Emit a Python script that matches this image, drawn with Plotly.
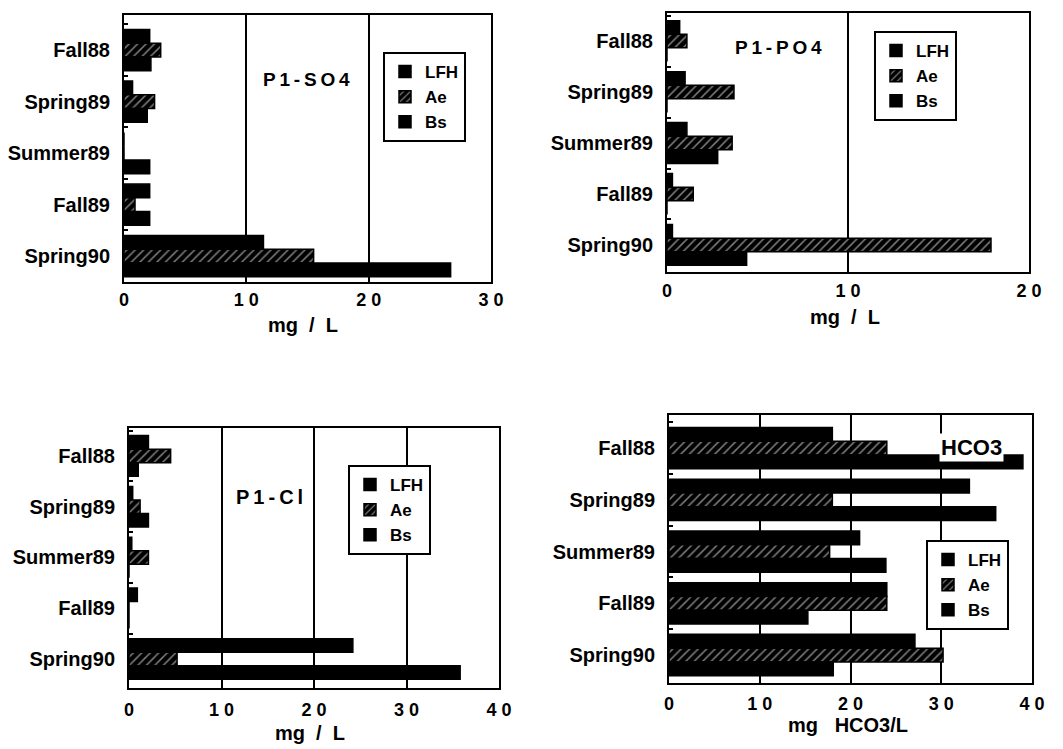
import plotly.graph_objects as go

W, H = 1063, 749

categories = ["Fall88", "Spring89", "Summer89", "Fall89", "Spring90"]
horizons = ["LFH", "Ae", "Bs"]

so4_lfh = [2.1, 0.7, 0.0, 2.1, 11.4]
so4_ae = [3.0, 2.5, 0.0, 0.9, 15.5]
so4_bs = [2.2, 1.9, 2.1, 2.1, 26.7]

po4_lfh = [0.7, 1.0, 1.1, 0.3, 0.3]
po4_ae = [1.1, 3.7, 3.6, 1.45, 17.9]
po4_bs = [0.0, 0.0, 2.8, 0.0, 4.4]

cl_lfh = [2.1, 0.4, 0.3, 0.9, 24.2]
cl_ae = [4.5, 1.2, 2.1, 0.0, 5.2]
cl_bs = [1.0, 2.1, 0.0, 0.0, 35.8]

hco3_lfh = [18.0, 33.1, 21.0, 24.0, 27.1]
hco3_ae = [24.0, 18.0, 17.7, 24.0, 30.2]
hco3_bs = [39.0, 36.0, 23.9, 15.3, 18.1]

FONT = "Liberation Sans"


def px_x(a, b):
    return [a / W, b / W]


def px_y(top, bottom):
    return [1 - bottom / H, 1 - top / H]


panels = [
    dict(series=[so4_lfh, so4_ae, so4_bs], xd=px_x(124, 491), yd=px_y(15, 282),
         xmax=30, ticks=[0, 10, 20, 30], yrange=[4.5, -0.68], legend="legend",
         leg=(383, 52), standoff=0),
    dict(series=[po4_lfh, po4_ae, po4_bs], xd=px_x(667, 1029), yd=px_y(13, 272),
         xmax=20, ticks=[0, 10, 20], yrange=[4.53, -0.55], legend="legend2",
         leg=(874, 31), standoff=1),
    dict(series=[cl_lfh, cl_ae, cl_bs], xd=px_x(129, 499), yd=px_y(428, 688),
         xmax=40, ticks=[0, 10, 20, 30, 40], yrange=[4.57, -0.55], legend="legend3",
         leg=(348, 465), standoff=4),
    dict(series=[hco3_lfh, hco3_ae, hco3_bs], xd=px_x(669, 1032), yd=px_y(415, 683),
         xmax=40, ticks=[0, 10, 20, 30, 40], yrange=[4.54, -0.64], legend="legend4",
         leg=(926, 540), standoff=3),
]

fig = go.Figure()
layout = {}

for i, p in enumerate(panels):
    sfx = "" if i == 0 else str(i + 1)
    xa, ya = "x" + sfx, "y" + sfx
    for name, vals in zip(horizons, p["series"]):
        hatched = name == "Ae"
        marker = dict(color="black", line=dict(color="black", width=1.5))
        if hatched:
            marker["pattern"] = dict(shape="/", fillmode="overlay", fgcolor="white",
                                     size=6, solidity=0.25)
        fig.add_trace(go.Bar(
            y=categories, x=vals, name=name, orientation="h",
            marker=marker, xaxis=xa, yaxis=ya, legend=p["legend"],
        ))
    layout["xaxis" + sfx] = dict(
        domain=p["xd"], anchor=ya, range=[0, p["xmax"]], automargin=False,
        tickvals=p["ticks"], ticktext=[" ".join(str(t)) for t in p["ticks"]],
        showgrid=True, gridcolor="black", gridwidth=1.6, zeroline=False,
        showline=True, mirror=True, linecolor="black", linewidth=2,
        ticks="", ticklabelstandoff=p["standoff"],
        tickfont=dict(family=FONT, size=18, color="black", weight="bold"),
    )
    layout["yaxis" + sfx] = dict(
        domain=p["yd"], anchor=xa, type="category", categoryorder="array",
        categoryarray=categories, range=p["yrange"], automargin=False,
        showgrid=False, zeroline=False,
        showline=True, mirror=True, linecolor="black", linewidth=2,
        ticks="inside", tickson="boundaries", ticklen=4, tickcolor="black", tickwidth=2,
        ticklabelstandoff=8,
        tickfont=dict(family=FONT, size=20, color="black", weight="bold"),
    )
    lx, ly = p["leg"]
    layout[p["legend"]] = dict(
        x=lx / W, y=1 - ly / H, xanchor="left", yanchor="top", xref="paper", yref="paper",
        bgcolor="white", bordercolor="black", borderwidth=2, traceorder="normal",
        font=dict(family=FONT, size=17, color="black", weight="bold"),
        itemwidth=30, entrywidth=50, entrywidthmode="pixels",
    )

nb = "\u00a0"
ts = "\u2009"
annotations = [
    dict(text=ts.join("P1-SO4"), x=306 / W, y=1 - 80 / H, size=19),
    dict(text=ts.join("P1-PO4"), x=778 / W, y=1 - 48 / H, size=19),
    dict(text=ts.join("P1-Cl"), x=269 / W, y=1 - 497 / H, size=20),
    dict(text="HCO3", x=971 / W, y=1 - 447 / H, size=22, bg="white"),
    dict(text="mg" + nb * 2 + "/" + nb * 2 + "L", x=303 / W, y=1 - 325 / H, size=20),
    dict(text="mg" + nb * 2 + "/" + nb * 2 + "L", x=845 / W, y=1 - 317 / H, size=20),
    dict(text="mg" + nb * 2 + "/" + nb * 2 + "L", x=310 / W, y=1 - 733 / H, size=20),
    dict(text="mg" + nb * 3 + "HCO3/L", x=848 / W, y=1 - 725 / H, size=20),
]
layout["annotations"] = [
    dict(text=a["text"], x=a["x"], y=a["y"], xref="paper", yref="paper",
         xanchor="center", yanchor="middle", showarrow=False,
         bgcolor=a.get("bg", "rgba(0,0,0,0)"), borderpad=1,
         font=dict(family=FONT, size=a["size"], color="black", weight="bold"))
    for a in annotations
]

fig.update_layout(
    width=W, height=H, margin=dict(l=0, r=0, t=0, b=0),
    paper_bgcolor="white", plot_bgcolor="white",
    barmode="group", bargap=0.2, bargroupgap=0.0,
    font=dict(family=FONT, color="black"),
    **layout,
)

fig.write_html(
    "out.html",
    config={"displayModeBar": False},
    post_script="document.body.style.margin='0';document.body.style.overflow='hidden';",
)
